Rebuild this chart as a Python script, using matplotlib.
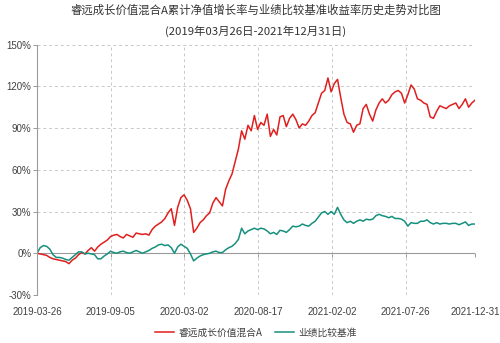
import numpy as np
import matplotlib
matplotlib.use("Agg")
import matplotlib.pyplot as plt

plt.rcParams['font.family'] = ['Noto Sans CJK SC', 'DejaVu Sans']

title_line1 = "睿远成长价值混合A累计净值增长率与业绩比较基准收益率历史走势对比图"
title_line2 = "(2019年03月26日-2021年12月31日)"
series_names = ["睿远成长价值混合A", "业绩比较基准"]
x_tick_labels = ["2019-03-26", "2019-09-05", "2020-03-02", "2020-08-17",
                 "2021-02-02", "2021-07-26", "2021-12-31"]
x_tick_days = [0, 115, 230, 345, 460, 575, 683]   # trading-day index of each label
y_ticks = [-30, 0, 30, 60, 90, 120, 150]

# weekly cumulative returns (%)
fund = [0, -0.5, -1, -1.5, -3, -4, -4.5, -5, -5.5, -6,
        -7.5, -5, -3.5, -1, 0.5, -0.5, 2, 4, 1.5, 4.5,
        6.5, 8, 9.5, 12, 13, 13.5, 12, 11, 13.5, 12.5,
        11.5, 14.5, 14, 13.5, 14, 13, 17, 19.5, 21, 22.5,
        25, 29, 32, 20, 33, 40, 42, 38, 32, 15,
        18, 22, 24, 27, 29, 36, 40, 37, 34, 46,
        52, 57, 66, 75, 88, 82, 92, 88, 99, 89,
        94, 92, 100, 84, 89, 85, 98, 99, 91, 97,
        100, 96, 90, 93, 92, 95, 99, 101, 108, 115,
        117, 126, 116, 122, 125, 112, 100, 94, 93, 87,
        92, 93, 104, 107, 100, 95, 103, 108, 111, 108,
        110, 114, 116, 117, 115, 108, 114, 121, 118, 111,
        110, 108, 107, 98, 97, 102, 106, 105, 104, 106,
        107, 108, 104, 107, 111, 105, 108, 110]
benchmark = [0, 4, 5.5, 5, 3, -1, -3, -3, -3.5, -4.5,
             -5, -3, -1, 1, 1, -0.5, 0, -0.5, -1, -4,
             -4, -2, -0.5, 1.5, 0.5, 0, 1, 1.5, 0.5, 0,
             1, 2, 1, 0, 1, 2, 3.5, 4.5, 6, 6.5,
             5.5, 6, 4, 0, 4.5, 6.5, 5, 3.5, -0.5, -5.5,
             -3.5, -2, -1, -0.5, 0, 1, 1.5, 0.5, 0.5, 2.5,
             4, 5, 7, 10, 18, 14, 16, 17, 18, 17,
             18, 17.5, 16, 14, 15, 13.5, 16.5, 16, 15, 17,
             19.5, 19, 19.5, 21, 20, 19.5, 21.5, 23, 26, 29,
             30, 28, 30, 28, 33, 28, 24, 22, 23, 21.5,
             23, 24, 23, 24.5, 24, 24.5, 27, 28, 27, 26.5,
             25.5, 26.5, 25, 25, 24.5, 23, 19.5, 22, 21.5, 21.5,
             23, 23, 24, 22, 21, 22, 21, 21.5, 21.5, 21,
             21.5, 21.5, 20.5, 21.5, 22.5, 20, 21, 21]

colors = ["#e01f1f", "#16907e"]

fig = plt.figure(figsize=(5.0, 3.43), dpi=100)
ax = fig.add_axes([0.074, 0.140, 0.876, 0.730])

days = np.linspace(x_tick_days[0], x_tick_days[-1], len(fund))
ax.plot(days, fund, color=colors[0], lw=1.1, label=series_names[0])
ax.plot(days, benchmark, color=colors[1], lw=1.1, label=series_names[1])

ax.set_xlim(x_tick_days[0], x_tick_days[-1])
ax.set_ylim(y_ticks[0], y_ticks[-1])

grid_kw = dict(color="#c8c8c8", lw=0.7, ls=(0, (3, 3)))
ax.set_yticks(y_ticks)
ax.set_yticklabels([f"{v}%" for v in y_ticks])
ax.set_xticks(x_tick_days)
ax.set_xticklabels(x_tick_labels)
ax.grid(True, **grid_kw)
ax.set_axisbelow(True)
ax.axhline(0, color="#9a9a9a", lw=0.8, zorder=1.5)

for s in ["top", "right", "bottom"]:
    ax.spines[s].set_visible(False)
ax.spines["left"].set_color("#9a9a9a")
ax.spines["left"].set_linewidth(0.8)

ax.tick_params(axis="y", length=3, width=0.7, color="#9a9a9a", pad=1,
               labelsize=7, labelcolor="#404040")
ax.tick_params(axis="x", length=0, pad=9, labelsize=7, labelcolor="#404040")
for lab in ax.get_xticklabels() + ax.get_yticklabels():
    lab.set_family(["Liberation Sans", "DejaVu Sans"])

sec = ax.secondary_xaxis(30 / 180)
sec.set_xticks(x_tick_days)
sec.set_xticklabels([])
sec.tick_params(axis="x", length=3, width=0.7, color="#9a9a9a", direction="out")
sec.spines["bottom"].set_visible(False)

fig.text(0.512, 0.970, title_line1, ha="center", va="center", fontsize=8.2, color="#333333")
fig.text(0.512, 0.910, title_line2, ha="center", va="center", fontsize=8.2, color="#333333")

fig.legend(loc="center", bbox_to_anchor=(0.512, 0.03), ncol=2, frameon=False,
           fontsize=7, handlelength=2.0, handletextpad=0.5, columnspacing=1.2,
           labelcolor="#404040")

fig.savefig("out.png", dpi=100)
